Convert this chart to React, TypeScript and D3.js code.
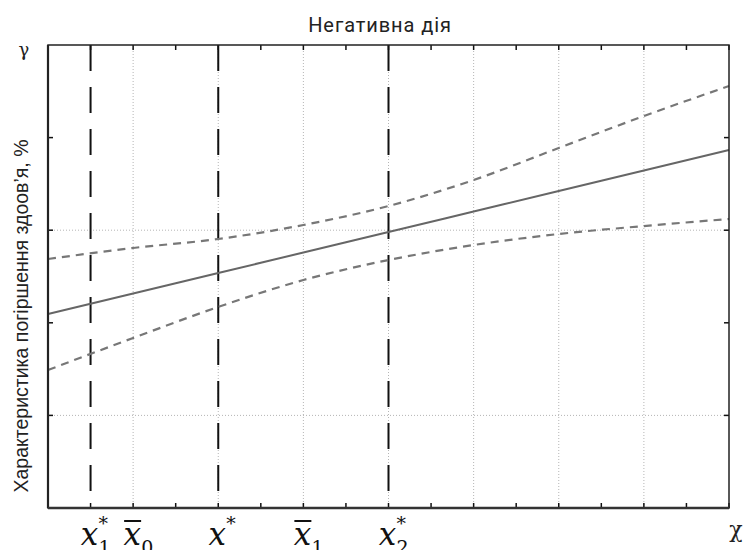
import React from "react";
import * as d3 from "d3";

// x positions in grid units (one unit = one vertical grid step)
const xs = [0, 1, 2, 3, 4, 5, 6, 7, 8];
// regression line and its confidence limits, y in half-grid units
const fitLine = [2.095, 2.316, 2.538, 2.759, 2.981, 3.202, 3.423, 3.645, 3.866];
const upperBand = [2.689, 2.808, 2.905, 3.056, 3.261, 3.542, 3.888, 4.233, 4.557];
const lowerBand = [1.49, 1.836, 2.171, 2.462, 2.678, 2.84, 2.959, 3.045, 3.121];

const xGrid = [1, 2, 3, 4, 5, 6, 7];
const yGrid = [1, 3];
const xTicks = d3.range(0, 8.01, 0.5);
const yTicks = [1, 2, 3, 4];
const refLines = [0.5, 2, 4];

const xLabels = [
  { at: 0.5, sub: "1", star: true, bar: false },
  { at: 1, sub: "0", star: false, bar: true },
  { at: 2, sub: "", star: true, bar: false },
  { at: 3, sub: "1", star: false, bar: true },
  { at: 4, sub: "2", star: true, bar: false },
];

const title = "Негативна дія";
const yTitle = "Характеристика погіршення здоов’я, %";

const W = 745, H = 550;
const left = 48, right = 729, top = 45, bottom = 508;

const serif = "'DejaVu Serif', 'Liberation Serif', serif";

const App = () => {
  const x = d3.scaleLinear().domain([0, 8]).range([left, right]);
  const y = d3.scaleLinear().domain([0, 5]).range([bottom, top]);

  const line = (vals: number[]) =>
    d3
      .line<number>()
      .x((_, i) => x(xs[i]))
      .y((d) => y(d))
      .curve(d3.curveMonotoneX)(vals) || "";

  return (
    <svg
      width={W}
      height={H}
      style={{ position: "absolute", left: 0, top: 0, background: "#fff" }}
    >
      <text
        x={380}
        y={32}
        textAnchor="middle"
        fontFamily="Roboto, sans-serif"
        fontSize={20}
        letterSpacing={0.9}
        fill="#222"
      >
        {title}
      </text>

      {/* grid */}
      {xGrid.map((g) => (
        <line key={"gx" + g} x1={x(g)} x2={x(g)} y1={top} y2={bottom}
          stroke="#b5b5b5" strokeWidth={1} strokeDasharray="1,2" />
      ))}
      {yGrid.map((g) => (
        <line key={"gy" + g} x1={left} x2={right} y1={y(g)} y2={y(g)}
          stroke="#b5b5b5" strokeWidth={1} strokeDasharray="1,2" />
      ))}

      {/* vertical reference lines */}
      {refLines.map((r) => (
        <line key={"r" + r} x1={x(r)} x2={x(r)} y1={top} y2={bottom}
          stroke="#111" strokeWidth={2} strokeDasharray="26,16" />
      ))}

      {/* bands and fit */}
      <path d={line(upperBand)} fill="none" stroke="#777" strokeWidth={2.2} strokeDasharray="8,6" />
      <path d={line(lowerBand)} fill="none" stroke="#777" strokeWidth={2.2} strokeDasharray="8,6" />
      <path d={line(fitLine)} fill="none" stroke="#666" strokeWidth={2} />

      {/* ticks, inward on all sides */}
      {xTicks.map((t) => (
        <g key={"tx" + t} stroke="#111" strokeWidth={1.5}>
          <line x1={x(t)} x2={x(t)} y1={bottom} y2={bottom - 5} />
          <line x1={x(t)} x2={x(t)} y1={top} y2={top + 5} />
        </g>
      ))}
      {yTicks.map((t) => (
        <g key={"ty" + t} stroke="#111" strokeWidth={1.5}>
          <line x1={left} x2={left + 5} y1={y(t)} y2={y(t)} />
          <line x1={right} x2={right - 5} y1={y(t)} y2={y(t)} />
        </g>
      ))}

      {/* frame */}
      <rect x={left} y={top} width={right - left} height={bottom - top}
        fill="none" stroke="#222" strokeWidth={1.5} />
      <line x1={left} x2={left} y1={top} y2={bottom} stroke="#222" strokeWidth={2.2} />
      <line x1={left} x2={right} y1={bottom} y2={bottom} stroke="#333" strokeWidth={2.5} />

      {/* axis symbols */}
      <text x={24} y={56} textAnchor="middle" fontFamily={serif}
        fontSize={18} fill="#222">γ</text>
      <text x={736} y={537} textAnchor="middle" fontFamily={serif}
        fontSize={22} fill="#222">χ</text>

      <text
        transform={`translate(28,316) rotate(-90)`}
        textAnchor="middle"
        fontFamily="Liberation Sans, Arial, sans-serif"
        fontSize={19.5}
        fill="#222"
      >
        {yTitle}
      </text>

      {/* x tick labels */}
      {xLabels.map((l) => {
        const cx = x(l.at) - 1;
        return (
          <g key={"l" + l.at} fill="#111">
            <text x={cx} y={545} textAnchor="middle" fontFamily={serif}
              fontStyle="italic" fontSize={31}>x</text>
            {l.bar && (
              <line x1={cx - 8} x2={cx + 9} y1={521} y2={521} stroke="#111" strokeWidth={2} />
            )}
            {l.sub && (
              <text x={cx + 9} y={554} fontFamily={serif} fontSize={19}>{l.sub}</text>
            )}
            {l.star && (
              <text x={cx + 9} y={530} fontFamily={serif} fontSize={19}>*</text>
            )}
          </g>
        );
      })}
    </svg>
  );
};

export default App;
